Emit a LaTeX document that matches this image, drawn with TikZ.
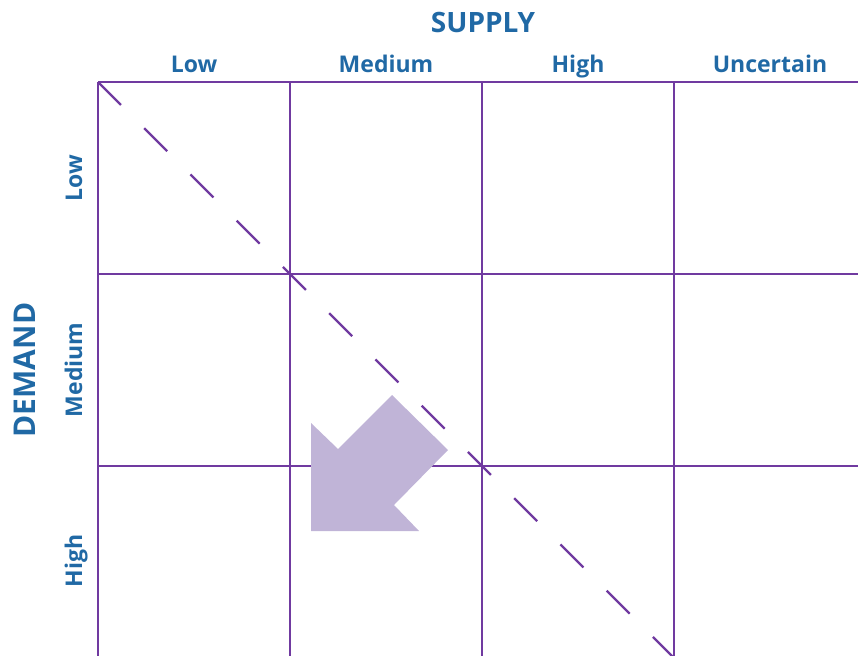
\documentclass[tikz,border=0pt]{standalone}
\usepackage{fontspec}
\setmainfont{Open Sans}
\usepackage{tikz}
\definecolor{gridpurple}{RGB}{112,58,160}
\definecolor{arrowlilac}{RGB}{192,180,215}
\definecolor{labelblue}{RGB}{32,105,165}

\begin{document}
\begin{tikzpicture}[x=1pt,y=-1pt,
    axislbl/.style={text=labelblue,inner sep=0pt,anchor=base,font=\fontsize{28}{28}\selectfont\bfseries},
    celllbl/.style={text=labelblue,inner sep=0pt,anchor=base,font=\fontsize{23}{23}\selectfont\bfseries},
    gridline/.style={draw=gridpurple,line width=1.4pt},
    diagline/.style={draw=gridpurple,line width=2.2pt,dash pattern=on 32.5pt off 32.9pt}]
  \useasboundingbox (0,0) rectangle (858,655);
  \clip (0,0) rectangle (858,655);

      \draw (483,33) node[axislbl] (supply) {SUPPLY};
  \draw (194,73) node[celllbl] (slow) {Low};
  \draw (386,73) node[celllbl] (smedium) {Medium};
      \draw (578,73) node[celllbl] (shigh) {High};
  \draw (770,73) node[celllbl] (suncertain) {Uncertain};

      \draw (35,370) node[axislbl,rotate=90,font=\fontsize{30}{30}\selectfont\bfseries] (demand) {DEMAND};
  \draw (82,178) node[celllbl,rotate=90] (dlow) {Low};
  \draw (82,370) node[celllbl,rotate=90] (dmedium) {Medium};
      \draw (82,561) node[celllbl,rotate=90] (dhigh) {High};

  \foreach \gx in {98,290,482,674}
      \path[gridline] (\gx,82) -- (\gx,670);
  \foreach \gy in {82,274,466}
      \path[gridline] (98,\gy) -- (870,\gy);

  \fill[arrowlilac] (392,395) -- (448,450) -- (394,505) -- (419,531) -- (311,531)
      -- (311,423) -- (338,449) -- cycle;

      \path[diagline] (98,82) -- (674,658);
\end{tikzpicture}
\end{document}
